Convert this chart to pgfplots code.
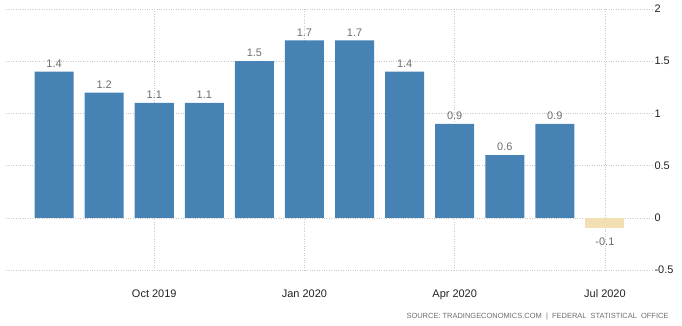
\documentclass[border=0pt]{standalone}
\usepackage{pgfplots}
\pgfplotsset{compat=1.18}
\usepackage{fontspec}
\setmainfont{Liberation Sans}
\definecolor{barblue}{HTML}{4682B4}
\definecolor{barneg}{HTML}{F2DFB4}
\definecolor{lbl}{HTML}{6E6E6E}
\definecolor{tk}{HTML}{222222}
\definecolor{grd}{HTML}{C8C8C8}
\begin{document}
\begin{tikzpicture}[x=1bp,y=1bp]
\useasboundingbox (0,0) rectangle (682,325);
\begin{axis}[
  at={(6bp,55bp)}, anchor=south west,
  scale only axis, width=647bp, height=261bp,
  xmin=0.04, xmax=12.96,
  ymin=-0.5, ymax=2,
  ybar, bar width=0.78, bar shift=0pt,
  axis line style={draw=none},
  tick style={draw=none},
  ytick={-0.5,0,0.5,1,1.5,2},
  yticklabel pos=right,
  yticklabels={-0.5,0,0.5,1,1.5,2},
  xtick={3,6,9,12},
  xticklabels={Oct 2019,Jan 2020,Apr 2020,Jul 2020},
  xticklabel style={yshift=-12bp},
  yticklabel style={anchor=west, xshift=-2bp},
  ticklabel style={font=\fontsize{11}{12}\selectfont, text=tk},
  grid=major,
  major grid style={draw=grd, dotted, line width=0.6pt},
  nodes near coords,
  point meta=explicit symbolic,
  every node near coord/.append style={font=\fontsize{11}{12}\selectfont, text=lbl, inner sep=4pt},
  /pgf/number format/assume math mode=true,
]
\addplot[fill=barblue, draw=none] coordinates {
  (1,1.4) [1.4] (2,1.2) [1.2] (3,1.1) [1.1] (4,1.1) [1.1] (5,1.5) [1.5] (6,1.7) [1.7]
  (7,1.7) [1.7] (8,1.4) [1.4] (9,0.9) [0.9] (10,0.6) [0.6] (11,0.9) [0.9]
};
\addplot[fill=barneg, draw=none, every node near coord/.append style={anchor=north, inner sep=0pt, yshift=-9bp}] coordinates {
  (12,-0.1) [-0.1]
};
\end{axis}
\node[anchor=east, font=\fontsize{7.5}{9}\selectfont, text=lbl] at (672,8) {SOURCE: TRADINGECONOMICS.COM \ | \ FEDERAL \ STATISTICAL \ OFFICE};
\end{tikzpicture}
\end{document}
